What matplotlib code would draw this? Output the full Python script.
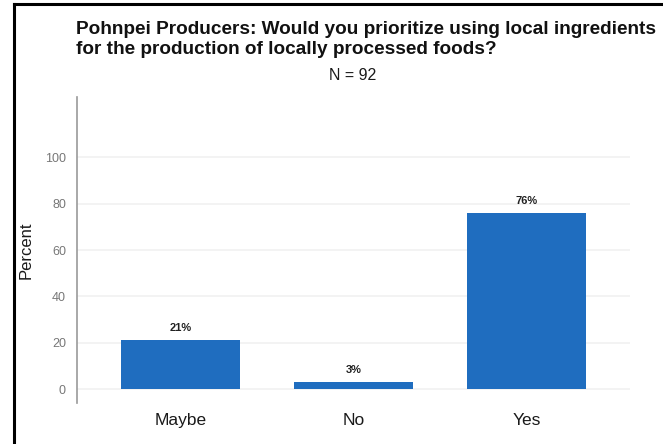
import matplotlib
import matplotlib.pyplot as plt
from matplotlib.lines import Line2D

matplotlib.use('Agg')
plt.rcParams['font.family'] = ['Liberation Sans', 'DejaVu Sans']

# survey responses
categories = ["Maybe", "No", "Yes"]
percents = [21, 3, 76]
bar_labels = ["21%", "3%", "76%"]
yticks = [0, 20, 40, 60, 80, 100]

fig = plt.figure(figsize=(6.63, 4.44), dpi=100)
ax = fig.add_axes([77/663, 1 - 403/444, (630-77)/663, (403-97)/444])

x = range(len(categories))
ax.bar(x, percents, width=0.69, color='#1f6dbf', zorder=3)
for xi, v, lab in zip(x, percents, bar_labels):
    ax.text(xi, v + 3, lab, ha='center', va='bottom', fontsize=8,
            fontweight='bold', color='#222222')

ax.set_xlim(-0.6, 2.6)
ax.set_ylim(-6, 126)
ax.set_yticks(yticks)
ax.set_xticks(list(x))
ax.set_xticklabels(categories, fontsize=12.5, color='#1a1a1a')
ax.tick_params(axis='y', labelsize=9, labelcolor='#777777', length=0, pad=8)
ax.tick_params(axis='x', length=0, pad=7)
ax.grid(axis='y', color='#f1f1f1', linewidth=1.2, zorder=0)
for s in ['top', 'right', 'bottom']:
    ax.spines[s].set_visible(False)
ax.spines['left'].set_color('#999999')
ax.spines['left'].set_linewidth(1.2)
ax.set_ylabel("Percent", fontsize=12, color='#1a1a1a', labelpad=8)

fig.text(76/663, 1 - 30/444, "Pohnpei Producers: Would you prioritize using local ingredients",
         fontsize=13.7, fontweight='bold', va='center', ha='left', color='#111111')
fig.text(76/663, 1 - 50/444, "for the production of locally processed foods?",
         fontsize=13.7, fontweight='bold', va='center', ha='left', color='#111111')
fig.text(353/663, 1 - 76/444, "N = 92", fontsize=11.5, va='center', ha='center', color='#1a1a1a')

# frame edges on left and top
fig.add_artist(Line2D([14/663, 14/663], [0, 1 - 4/444], color='black', linewidth=2.2))
fig.add_artist(Line2D([14/663, 1], [1 - 4/444, 1 - 4/444], color='black', linewidth=2.2))

fig.savefig('out.png', dpi=100)
